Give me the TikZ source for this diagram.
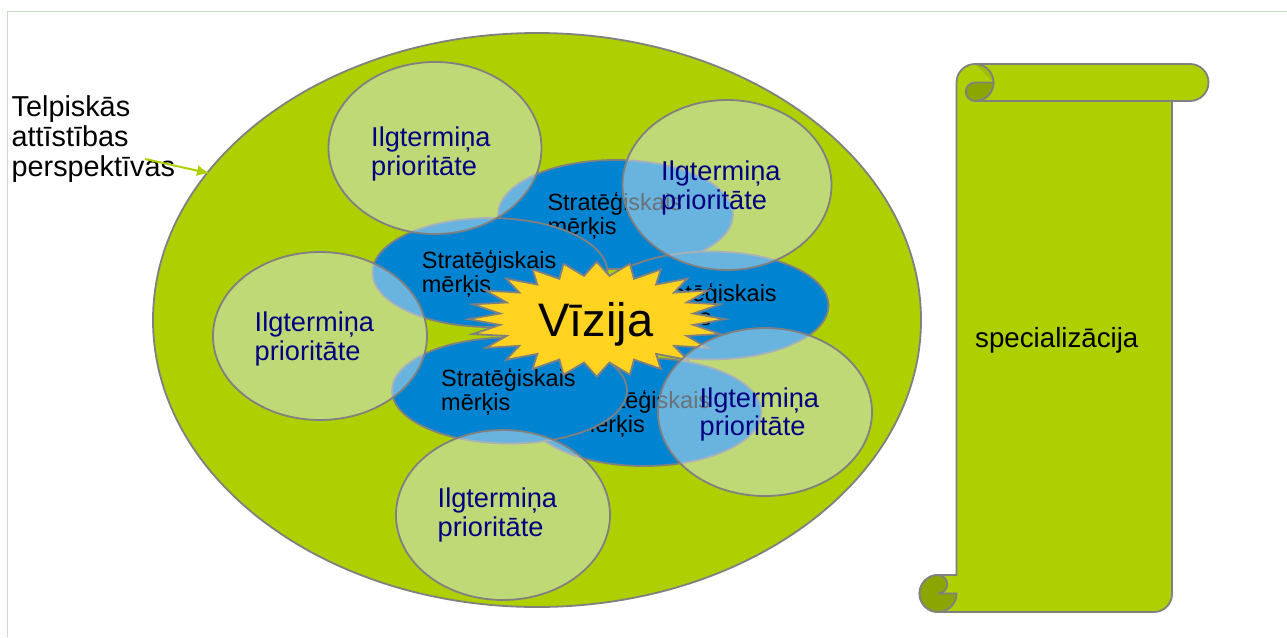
\documentclass[tikz,border=0pt]{standalone}
\usepackage{fontspec}
\setmainfont{Liberation Sans}
\usetikzlibrary{arrows.meta}
\definecolor{lgreen}{HTML}{AECF00}
\definecolor{dgreen}{HTML}{8BA600}
\definecolor{fgreen}{HTML}{9EBC00}
\definecolor{sblue}{HTML}{0084D1}
\definecolor{gold}{HTML}{FFD320}
\definecolor{outl}{HTML}{808080}
\definecolor{veil}{HTML}{D2E4EE}
\definecolor{navyc}{HTML}{000080}
\definecolor{framec}{HTML}{C8DDC8}
\newcommand\twoline[2]{\begin{tabular}[t]{@{}l@{}}#1\\#2\end{tabular}}
\tikzset{
  outline/.style={draw=outl, line width=1.8pt},
  goalell/.style={outline, fill=sblue},
  prioell/.style={outline, fill=veil, fill opacity=0.5},
  goaltext/.style={anchor=base west, inner sep=0pt, font=\fontsize{23.5}{24.2}\selectfont, text=black},
  priotext/.style={anchor=base west, inner sep=0pt, font=\fontsize{27.2}{28.5}\selectfont, text=navyc},
}
\begin{document}
\begin{tikzpicture}[x=1pt, y=1pt, yscale=-1]
\useasboundingbox (0,0) rectangle (1287,637);
% frame
\draw[framec, line width=1pt] (7.5,637) -- (7.5,11.5) -- (1287,11.5);

% outer ellipse
\draw[outline, fill=lgreen] (537,320) ellipse [x radius=384, y radius=287];

% strategic goals
\draw[goalell] (615.5,214.5) ellipse [x radius=117.5, y radius=54.5];
\node[goaltext] (g1) at (547.3,210.7) {\twoline{Stratēģiskais}{mērķis}};
\draw[goalell] (490,272.5) ellipse [x radius=117.5, y radius=54.5];
\node[goaltext] (g2) at (421.7,268.3) {\twoline{Stratēģiskais}{mērķis}};
\draw[goalell] (711,305.5) ellipse [x radius=117.5, y radius=54];
\node[goaltext] (g3) at (642,301.7) {\twoline{Stratēģiskais}{mērķis}};
\draw[goalell] (644,412) ellipse [x radius=117.5, y radius=54];
\node[goaltext] (g5) at (575.5,408) {\twoline{Stratēģiskais}{mērķis}};
\draw[goalell] (509.5,390.5) ellipse [x radius=117.5, y radius=53];
\node[goaltext] (g4) at (441,386.7) {\twoline{Stratēģiskais}{mērķis}};

% vision star
\draw[outline, fill=gold] (725,319.2)
  \foreach \i in {1,...,47} { -- ({596.7+(0.88+0.12*cos(180*\i))*128.3*cos(7.5*\i)}, {319.2+(0.88+0.12*cos(180*\i))*57.5*sin(7.5*\i)}) } -- cycle;
\node[anchor=base, inner sep=0pt, font=\fontsize{47}{50}\selectfont] (vision) at (596,336.7) {Vīzija};

% long-term priorities
\draw[prioell] (435,148) ellipse [x radius=106.5, y radius=86];
\node[priotext] (p1) at (371,146.5) {\twoline{Ilgtermiņa}{prioritāte}};
\draw[prioell] (727,185) ellipse [x radius=104.5, y radius=85];
\node[priotext] (p2) at (661,180.7) {\twoline{Ilgtermiņa}{prioritāte}};
\draw[prioell] (320,336) ellipse [x radius=107, y radius=84];
\node[priotext] (p3) at (254.5,331.7) {\twoline{Ilgtermiņa}{prioritāte}};
\draw[prioell] (765,412) ellipse [x radius=107, y radius=84];
\node[priotext] (p4) at (699.5,407.3) {\twoline{Ilgtermiņa}{prioritāte}};
\draw[prioell] (503,515) ellipse [x radius=107, y radius=85];
\node[priotext] (p5) at (437.5,507.5) {\twoline{Ilgtermiņa}{prioritāte}};

% left label and arrow
\node[anchor=base west, inner sep=0pt, font=\fontsize{28.8}{29.7}\selectfont] (persp) at (11.5,116.7)
  {\begin{tabular}[t]{@{}l@{}}Telpiskās\\attīstības\\perspektīvas\end{tabular}};
\coordinate (arrowstart) at (145,159);
\coordinate (arrowtip) at (210,173.5);
\draw[lgreen, line width=2pt, -{Latex[length=13pt,width=11pt]}] (arrowstart) -- (arrowtip);

% scroll
\filldraw[outline, fill=lgreen] (1172,101) -- (1172,594) arc[start angle=0,end angle=90,radius=18]
  -- (938,612) arc[start angle=90,end angle=270,radius=18.5] -- (956.5,575) -- (956.5,82.5)
  arc[start angle=180,end angle=270,radius=18.5] -- (1190,64) arc[start angle=270,end angle=450,radius=18.5] -- cycle;
\fill[fgreen] (975,64) arc[start angle=270,end angle=360,radius=18.5] -- cycle;
\draw[outline] (975,64) arc[start angle=270,end angle=450,radius=18.5];
\draw[outline] (975,101) -- (1172,101);
\filldraw[outline, fill=dgreen] (975,82.5) -- (993.5,82.5) arc[start angle=0,end angle=90,radius=18.5]
  arc[start angle=90,end angle=270,radius=9.25] -- cycle;
\filldraw[outline, fill=dgreen] (938,575) arc[start angle=270,end angle=450,radius=9.25]
  -- (956.5,593.5) arc[start angle=0,end angle=270,radius=18.5] -- cycle;
\node[anchor=base west, inner sep=0pt, font=\fontsize{27.7}{30}\selectfont] (spec) at (975,347.3) {specializācija};
\end{tikzpicture}
\end{document}
